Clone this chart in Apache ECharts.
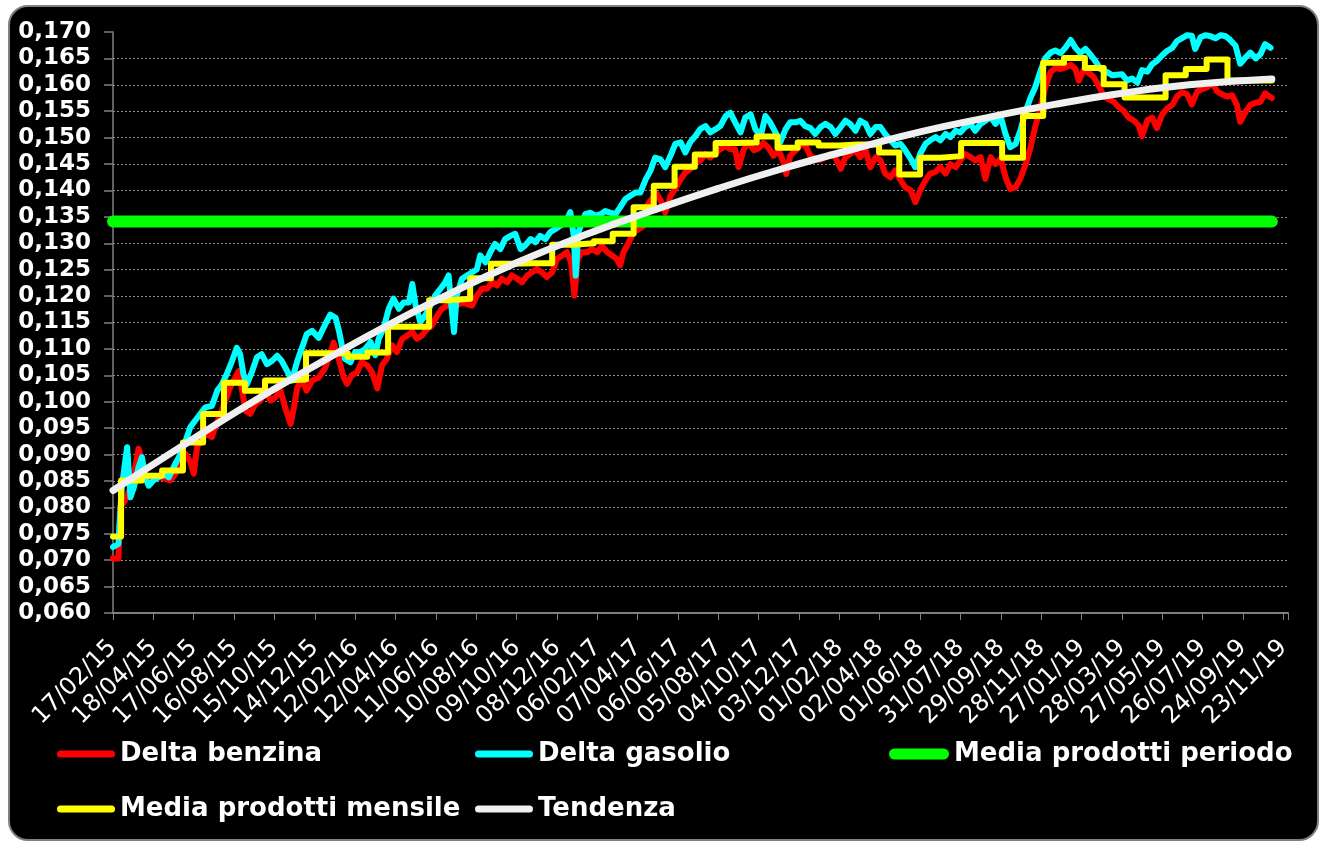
<!DOCTYPE html>
<html>
<head>
<meta charset="utf-8">
<script src="https://cdn.jsdelivr.net/npm/echarts@6/dist/echarts.min.js"></script>
<style>
html,body{margin:0;padding:0;background:#ffffff;}
#frame{position:absolute;left:8px;top:5px;width:1311px;height:836px;box-sizing:border-box;background:#000;border:2px solid #808080;border-radius:20px;}
#chart{position:absolute;left:0;top:0;width:1324px;height:844px;}
</style>
</head>
<body>
<div id="frame"></div>
<div id="chart"></div>
<script>
// x values are day offsets from 17/02/15
const xTickLabels = ['17/02/15','18/04/15','17/06/15','16/08/15','15/10/15','14/12/15','12/02/16','12/04/16','11/06/16','10/08/16','09/10/16','08/12/16','06/02/17','07/04/17','06/06/17','05/08/17','04/10/17','03/12/17','01/02/18','02/04/18','01/06/18','31/07/18','29/09/18','28/11/18','27/01/19','28/03/19','27/05/19','26/07/19','24/09/19','23/11/19'];

const benzina = [[0,0.0703],[8,0.0703],[11,0.0801],[18,0.0813],[26,0.0838],[33,0.0876],[38,0.0911],[43,0.0889],[48,0.0857],[55,0.0851],[63,0.0857],[70,0.0857],[78,0.0854],[85,0.0851],[93,0.0864],[100,0.0889],[108,0.0901],[115,0.0886],[120,0.0864],[125,0.0914],[132,0.0933],[140,0.0939],[147,0.0933],[152,0.0952],[160,0.0977],[167,0.1002],[174,0.1027],[182,0.1046],[187,0.1058],[192,0.1021],[197,0.0983],[204,0.0977],[212,0.0996],[219,0.1002],[226,0.1021],[234,0.1002],[241,0.1008],[249,0.1021],[256,0.0989],[264,0.0958],[269,0.0989],[274,0.1027],[281,0.1040],[288,0.1021],[296,0.1040],[306,0.1046],[316,0.1065],[328,0.1112],[335,0.1084],
[343,0.1046],[348,0.1034],[355,0.1050],[363,0.1056],[370,0.1075],[378,0.1069],[385,0.1056],[393,0.1025],[400,0.1069],[407,0.1081],[415,0.1107],[422,0.1094],[430,0.1119],[437,0.1125],[445,0.1132],[452,0.1119],[459,0.1125],[467,0.1138],[474,0.1144],[482,0.1163],[489,0.1176],[497,0.1182],[504,0.1188],[511,0.1182],[519,0.1188],[526,0.1185],[534,0.1182],[541,0.1201],[549,0.1214],[556,0.1214],[564,0.1226],[571,0.1220],[578,0.1233],[586,0.1226],[593,0.1239],[601,0.1233],[608,0.1226],[616,0.1239],[623,0.1245],[630,0.1251],[638,0.1245],[645,0.1236],[653,0.1245],[660,0.1270],[668,0.1277],[675,0.1283],[681,0.1264],[686,0.1201],[691,0.1270],
[697,0.1283],[705,0.1283],[712,0.1289],[720,0.1283],[727,0.1295],[735,0.1283],[742,0.1277],[749,0.1270],[754,0.1258],[759,0.1283],[767,0.1302],[774,0.1321],[782,0.1327],[789,0.1333],[794,0.1371],[801,0.1384],[809,0.1393],[816,0.1377],[821,0.1358],[829,0.1390],[836,0.1403],[844,0.1421],[851,0.1434],[858,0.1440],[866,0.1453],[873,0.1456],[881,0.1469],[888,0.1462],[896,0.1472],[903,0.1478],[911,0.1484],[918,0.1478],[925,0.1478],[930,0.1444],[938,0.1478],[945,0.1490],[953,0.1476],[960,0.1480],[967,0.1490],[975,0.1480],[982,0.1466],[990,0.1476],[997,0.1453],[1001,0.1431],[1007,0.1466],[1015,0.1476],[1022,0.1486],[1029,0.1486],
[1037,0.1465],[1044,0.1460],[1052,0.1458],[1059,0.1463],[1067,0.1469],[1074,0.1463],[1082,0.1441],[1089,0.1463],[1096,0.1469],[1104,0.1476],[1111,0.1463],[1119,0.1476],[1126,0.1444],[1134,0.1463],[1141,0.1457],[1148,0.1432],[1156,0.1425],[1163,0.1438],[1171,0.1419],[1178,0.1406],[1186,0.1400],[1193,0.1378],[1200,0.1400],[1208,0.1419],[1215,0.1432],[1223,0.1435],[1230,0.1444],[1238,0.1432],[1245,0.1450],[1253,0.1444],[1260,0.1457],[1267,0.1469],[1275,0.1463],[1282,0.1457],[1290,0.1463],[1297,0.1422],[1305,0.1463],[1312,0.1450],[1320,0.1460],[1327,0.1425],[1334,0.1403],[1342,0.1406],
[1349,0.1422],[1357,0.1450],[1364,0.1480],[1371,0.1520],[1379,0.1557],[1386,0.1595],[1394,0.1624],[1401,0.1632],[1409,0.1630],[1416,0.1633],[1424,0.1638],[1431,0.1630],[1436,0.1608],[1443,0.1628],[1451,0.1622],[1458,0.1615],[1466,0.1597],[1473,0.1579],[1481,0.1572],[1488,0.1568],[1495,0.1558],[1503,0.1550],[1510,0.1538],[1518,0.1532],[1525,0.1523],[1530,0.1503],[1538,0.1533],[1545,0.1538],[1552,0.1518],[1560,0.1544],[1567,0.1555],[1575,0.1562],[1582,0.1578],[1590,0.1586],[1597,0.1582],[1604,0.1563],[1612,0.1587],[1619,0.1592],[1627,0.1595],[1634,0.1604],[1642,0.1587],[1649,0.1582],[1656,0.1578],[1664,0.1580],[1671,0.1562],[1676,0.1530],[1684,0.1549],[1691,0.1562],[1699,0.1566],[1706,0.1568],[1713,0.1584],[1718,0.1579],[1723,0.1575]];

const gasolio = [[0,0.0725],[8,0.0731],[13,0.0838],[21,0.0914],[26,0.0819],[31,0.0838],[38,0.0876],[43,0.0895],[48,0.0857],[53,0.0841],[60,0.0851],[68,0.0857],[75,0.0864],[83,0.0857],[90,0.0876],[98,0.0895],[108,0.0926],[115,0.0952],[122,0.0964],[130,0.0977],[137,0.0989],[147,0.0992],[155,0.1021],[162,0.1033],[170,0.1055],[177,0.1077],[184,0.1102],[189,0.1090],[194,0.1052],[199,0.1033],[207,0.1058],[214,0.1084],[221,0.1090],[229,0.1071],[236,0.1077],[244,0.1087],[251,0.1077],[259,0.1058],[266,0.1040],[274,0.1077],[281,0.1102],[288,0.1128],[296,0.1134],[306,0.1121],[313,0.1140],[323,0.1165],[331,0.1159],[336,0.1134],
[341,0.1102],[345,0.1081],[353,0.1075],[360,0.1094],[368,0.1094],[375,0.1100],[383,0.1113],[390,0.1088],[395,0.1119],[402,0.1138],[410,0.1176],[417,0.1195],[425,0.1176],[432,0.1188],[440,0.1188],[445,0.1223],[450,0.1182],[457,0.1151],[464,0.1163],[472,0.1182],[479,0.1201],[487,0.1214],[494,0.1226],[499,0.1239],[503,0.1182],[507,0.1132],[511,0.1201],[519,0.1233],[526,0.1239],[534,0.1245],[541,0.1251],[546,0.1277],[554,0.1264],[561,0.1283],[568,0.1299],[576,0.1289],[583,0.1308],[591,0.1314],[598,0.1318],[606,0.1289],[613,0.1296],[621,0.1308],[628,0.1302],[635,0.1314],[643,0.1308],[650,0.1321],[658,0.1327],[665,0.1333],[673,0.1340],[680,0.1359],[685,0.1314],[688,0.1239],[692,0.1321],
[702,0.1355],[710,0.1358],[717,0.1352],[725,0.1355],[732,0.1361],[739,0.1358],[747,0.1355],[754,0.1368],[762,0.1384],[769,0.1390],[777,0.1396],[784,0.1396],[792,0.1421],[799,0.1437],[806,0.1462],[814,0.1459],[821,0.1444],[829,0.1466],[836,0.1488],[844,0.1491],[851,0.1472],[858,0.1491],[866,0.1503],[873,0.1516],[881,0.1522],[888,0.1510],[896,0.1516],[903,0.1522],[911,0.1541],[918,0.1547],[925,0.1529],[933,0.1510],[940,0.1538],[948,0.1544],[955,0.1516],[963,0.1503],[970,0.1541],[977,0.1529],[985,0.1510],[992,0.1491],[1000,0.1516],[1007,0.1529],[1015,0.1529],[1022,0.1532],[1029,0.1522],
[1037,0.1518],[1044,0.1507],[1052,0.1520],[1059,0.1526],[1067,0.1520],[1074,0.1507],[1082,0.1520],[1089,0.1532],[1096,0.1526],[1104,0.1513],[1111,0.1532],[1119,0.1526],[1126,0.1507],[1134,0.1520],[1141,0.1520],[1148,0.1507],[1156,0.1495],[1163,0.1485],[1171,0.1488],[1178,0.1476],[1186,0.1460],[1193,0.1444],[1200,0.1469],[1208,0.1488],[1215,0.1495],[1223,0.1501],[1230,0.1495],[1238,0.1507],[1245,0.1501],[1253,0.1513],[1260,0.1510],[1267,0.1520],[1275,0.1526],[1282,0.1513],[1290,0.1526],[1297,0.1532],[1305,0.1539],[1312,0.1526],[1320,0.1539],[1327,0.1507],[1334,0.1482],[1342,0.1488],
[1349,0.1513],[1357,0.1550],[1364,0.1575],[1371,0.1595],[1379,0.1626],[1386,0.1650],[1394,0.1661],[1401,0.1665],[1409,0.1660],[1416,0.1670],[1424,0.1685],[1431,0.1670],[1438,0.1660],[1446,0.1668],[1453,0.1658],[1461,0.1644],[1468,0.1630],[1478,0.1624],[1486,0.1618],[1493,0.1619],[1500,0.1620],[1508,0.1608],[1515,0.1612],[1523,0.1604],[1530,0.1628],[1538,0.1625],[1545,0.1639],[1552,0.1645],[1560,0.1656],[1567,0.1664],[1575,0.1670],[1582,0.1683],[1590,0.1689],[1597,0.1694],[1604,0.1693],[1609,0.1668],[1617,0.1690],[1624,0.1694],[1632,0.1692],[1639,0.1688],[1647,0.1694],[1654,0.1692],[1661,0.1685],[1669,0.1674],[1676,0.1640],[1684,0.1652],[1691,0.1661],[1699,0.1650],[1706,0.1658],[1713,0.1677],[1721,0.1670]];

const mediaPeriodo = 0.1341;
const periodoDays = [0, 1723];

const monthStartDays = [0,12,43,73,104,134,165,196,226,257,287,318,349,378,409,439,470,500,531,562,592,623,653,684,715,743,774,804,835,865,896,927,957,988,1018,1049,1080,1108,1139,1169,1200,1230,1261,1292,1322,1353,1383,1414,1445,1473,1504,1534,1565,1595,1626,1657,1687,1718];
const mensileValues = [0.0745,0.0851,0.0860,0.0870,0.0923,0.0977,0.1036,0.1021,0.1040,0.1042,0.1092,
0.1092,0.1085,0.1093,0.1142,0.1142,0.1192,0.1195,0.1234,0.1261,0.1262,0.1262,0.1297,
0.1300,0.1304,0.1318,0.1368,0.1409,0.1445,0.1468,0.1490,0.1491,0.1502,0.1481,0.1491,
0.1485,0.1487,0.1487,0.1472,0.1430,0.1462,0.1465,0.1490,0.1490,0.1462,0.1541,0.1642,
0.1651,0.1632,0.1601,0.1576,0.1576,0.1618,0.1630,0.1648,0.1608,0.1608,0.1608];
const lastDataDay = 1723;

const tendenza = [[0,0.0832],[100,0.0914],[200,0.0994],[300,0.1068],[400,0.1139],[500,0.1204],[600,0.1263],[700,0.1315],[800,0.1361],[900,0.1404],[1000,0.1443],[1100,0.1478],[1200,0.1511],[1300,0.1538],[1400,0.1563],[1500,0.1584],[1600,0.1600],[1723,0.1611]];

const mensile = monthStartDays.map((d, i) => [d, mensileValues[i]]);
mensile.push([lastDataDay, mensileValues[mensileValues.length - 1]]);
const periodo = periodoDays.map(d => [d, mediaPeriodo]);

function capsule(w, h) {
  const r = h / 2;
  return 'path://M' + r + ',0 L' + (w - r) + ',0 A' + r + ',' + r + ' 0 0 1 ' + (w - r) + ',' + h +
    ' L' + r + ',' + h + ' A' + r + ',' + r + ' 0 0 1 ' + r + ',0 Z';
}

const FONT = 'DejaVu Sans, Verdana, sans-serif';
const legendText = {color:'#ffffff', fontSize:26, fontWeight:'bold', fontFamily:FONT, lineHeight:30};
function leg(name, left, top, w, h) {
  return {data:[name], left:left, top:top, padding:0, itemWidth:w, itemHeight:h, icon:capsule(w, h),
    selectedMode:false, textStyle:legendText};
}

const chart = echarts.init(document.getElementById('chart'), null, {renderer:'canvas'});
chart.setOption({
  backgroundColor:'transparent',
  animation:false,
  grid:{left:113, top:32, width:1175, height:581, containLabel:false},
  legend:[
    leg('Delta benzina', 57, 739, 58, 7),
    leg('Delta gasolio', 475, 739, 58, 7),
    leg('Media prodotti periodo', 889, 739, 60, 11),
    leg('Media prodotti mensile', 57, 794, 58, 7),
    leg('Tendenza', 475, 794, 58, 7)
  ],
  xAxis:{
    type:'value', min:0, max:1747, interval:60,
    axisLine:{show:true, lineStyle:{color:'#808080', width:2}},
    axisTick:{show:true, length:7, lineStyle:{color:'#808080', width:1}},
    splitLine:{show:false},
    axisLabel:{rotate:45, color:'#ffffff', fontSize:24, fontFamily:FONT, margin:31,
      formatter:function(v){ return (Math.abs(v % 60) < 1e-6) ? (xTickLabels[Math.round(v/60)] || '') : ''; }}
  },
  yAxis:{
    type:'value', min:0.06, max:0.17, interval:0.005,
    axisLine:{show:true, lineStyle:{color:'#808080', width:1.5}},
    axisTick:{show:true, length:9, lineStyle:{color:'#808080', width:1.5}},
    splitLine:{show:true, showMaxLine:false, lineStyle:{color:'#8c8c8c', width:1, type:[2,2]}},
    axisLabel:{color:'#ffffff', fontSize:23, fontWeight:'bold', fontFamily:FONT, margin:22,
      formatter:function(v){ return v.toFixed(3).replace('.', ','); }}
  },
  series:[
    {name:'Delta benzina', type:'line', data:benzina, symbol:'none', z:2,
      itemStyle:{color:'#ff0000'}, lineStyle:{color:'#ff0000', width:6, cap:'round', join:'round'}},
    {name:'Delta gasolio', type:'line', data:gasolio, symbol:'none', z:3,
      itemStyle:{color:'#00ffff'}, lineStyle:{color:'#00ffff', width:6, cap:'round', join:'round'}},
    {name:'Media prodotti periodo', type:'line', data:periodo, symbol:'none', z:4,
      itemStyle:{color:'#00ff00'}, lineStyle:{color:'#00ff00', width:12, cap:'round'}},
    {name:'Media prodotti mensile', type:'line', step:'end', data:mensile, symbol:'none', z:5,
      itemStyle:{color:'#ffff00'}, lineStyle:{color:'#ffff00', width:6, cap:'round', join:'round'}},
    {name:'Tendenza', type:'line', smooth:true, data:tendenza, symbol:'none', z:6,
      itemStyle:{color:'#f0f0f0'}, lineStyle:{color:'#f0f0f0', width:7, cap:'round'}}
  ]
});
</script>
</body>
</html>
